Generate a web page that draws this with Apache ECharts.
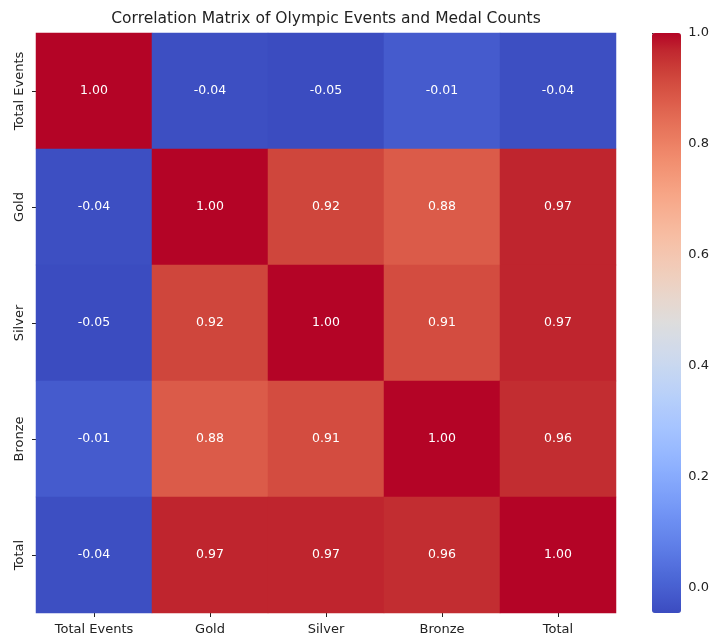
<!DOCTYPE html>
<html>
<head>
<meta charset="utf-8">
<script src="https://cdn.jsdelivr.net/npm/echarts@6/dist/echarts.min.js"></script>
<style>
  html, body { margin: 0; padding: 0; background: #fff; }
  #chart { width: 712px; height: 637px; }
</style>
</head>
<body>
<div id="chart"></div>
<script>
// Variables of the correlation matrix
const labels = ['Total Events', 'Gold', 'Silver', 'Bronze', 'Total'];

// Correlation rows (same order as labels)
const rowTotalEvents = [1.00, -0.04, -0.046, -0.01, -0.04];
const rowGold        = [-0.04, 1.00, 0.92, 0.88, 0.97];
const rowSilver      = [-0.046, 0.92, 1.00, 0.91, 0.97];
const rowBronze      = [-0.01, 0.88, 0.91, 1.00, 0.96];
const rowTotal       = [-0.04, 0.97, 0.97, 0.96, 1.00];
const rows = [rowTotalEvents, rowGold, rowSilver, rowBronze, rowTotal];

// Colour scale limits and colorbar ticks
const scaleMin = -0.046;
const scaleMax = 1.0;
const colorbarTicks = [0.0, 0.2, 0.4, 0.6, 0.8, 1.0];

// Diverging blue-white-red palette (evenly spaced stops)
const coolwarm = [
  '#3b4cc0', '#445acc', '#4d68d7', '#5775e1', '#6282ea', '#6c8ef1', '#779af7', '#82a5fb',
  '#8db0fe', '#98b9ff', '#a3c2ff', '#aec9fd', '#b8d0f9', '#c2d5f4', '#ccd9ee', '#d5dbe6',
  '#dddddd', '#e5d8d1', '#ecd3c5', '#f1ccb9', '#f5c4ad', '#f7bba0', '#f7b194', '#f7a687',
  '#f49a7b', '#f18d6f', '#ec7f63', '#e57058', '#de604d', '#d55042', '#cb3e38', '#c0282f',
  '#b40426'
];

const cells = [];
rows.forEach((row, r) => {
  row.forEach((v, c) => cells.push([c, r, v]));
});

const textColor = '#222';
const font = 'DejaVu Sans';

const chart = echarts.init(document.getElementById('chart'), null, { renderer: 'canvas' });
chart.setOption({
  backgroundColor: '#ffffff',
  animation: false,
  title: {
    text: 'Correlation Matrix of Olympic Events and Medal Counts',
    left: 326,
    top: 11,
    padding: 0,
    textAlign: 'center',
    textStyle: { fontFamily: font, fontSize: 15.5, fontWeight: 'normal', color: textColor }
  },
  grid: [
    { left: 36, top: 33, width: 580, height: 580 },
    { left: 652, top: 33, width: 29, height: 580 }
  ],
  xAxis: [
    {
      type: 'category', gridIndex: 0, data: labels,
      axisLine: { show: false },
      axisTick: { show: true, length: 4, alignWithLabel: true, lineStyle: { color: textColor } },
      axisLabel: { fontFamily: font, fontSize: 13, color: textColor, margin: 10 },
      splitArea: { show: false }
    },
    { type: 'value', gridIndex: 1, show: false, min: 0, max: 1 }
  ],
  yAxis: [
    {
      type: 'category', gridIndex: 0, data: labels, inverse: true,
      axisLine: { show: false },
      axisTick: { show: true, length: 4, alignWithLabel: true, lineStyle: { color: textColor } },
      axisLabel: { fontFamily: font, fontSize: 13, color: textColor, rotate: 90, margin: 10 }
    },
    {
      type: 'value', gridIndex: 1, position: 'right', min: scaleMin, max: scaleMax,
      axisLine: { show: false },
      splitLine: { show: false },
      axisTick: { show: true, length: 4, customValues: colorbarTicks, lineStyle: { color: textColor } },
      axisLabel: {
        fontFamily: font, fontSize: 13, color: textColor, margin: 9,
        customValues: colorbarTicks,
        formatter: v => v.toFixed(1)
      }
    }
  ],
  visualMap: {
    type: 'continuous',
    seriesIndex: 0,
    min: scaleMin,
    max: scaleMax,
    calculable: false,
    orient: 'vertical',
    left: 652,
    top: 33,
    padding: 0,
    itemWidth: 29,
    itemHeight: 580,
    hoverLink: false,
    inRange: { color: coolwarm }
  },
  series: [{
    type: 'heatmap',
    xAxisIndex: 0,
    yAxisIndex: 0,
    data: cells,
    label: {
      show: true,
      color: '#ffffff',
      fontFamily: font,
      fontSize: 12.5,
      formatter: p => p.value[2].toFixed(2)
    },
    itemStyle: { borderWidth: 0 },
    emphasis: { disabled: true }
  }]
});
</script>
</body>
</html>
